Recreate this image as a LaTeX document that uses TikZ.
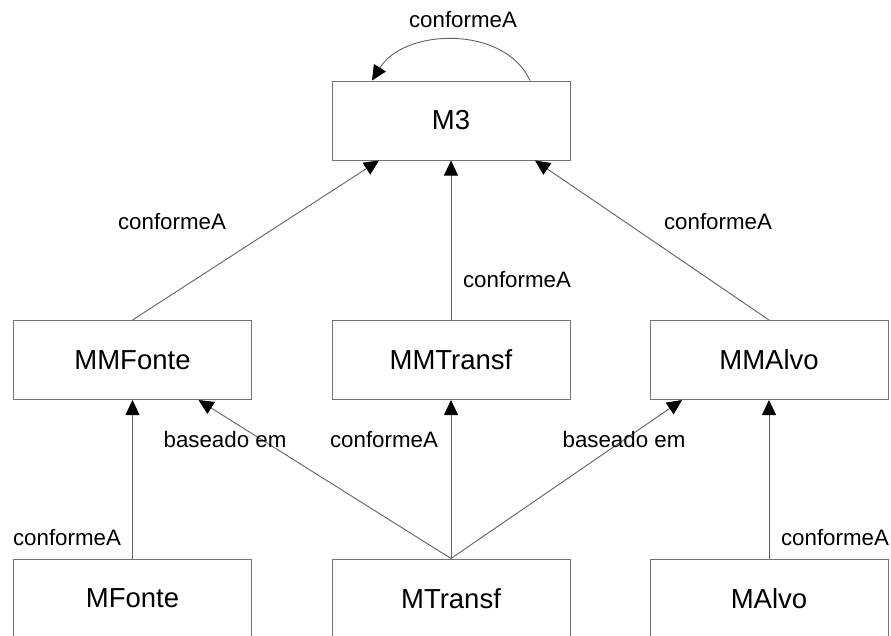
\documentclass[tikz,border=0pt]{standalone}
\usepackage{fontspec}
\setmainfont{Liberation Sans}
\usetikzlibrary{arrows.meta}
\begin{document}
\begin{tikzpicture}[x=1pt,y=-1pt,
  box/.style={draw=black!55,line width=1pt,minimum width=238pt,minimum height=79pt,
    inner sep=0pt,font=\fontsize{27.5}{31}\selectfont},
  lbl/.style={inner sep=0pt,font=\fontsize{22.3}{26}\selectfont},
  link/.style={draw=black!62,line width=0.9pt,
    -{Triangle[length=15pt,width=14pt,color=black]}}]
\useasboundingbox (0,0) rectangle (891,635);
\clip (0,0) rectangle (891,635);
\fill[white] (0,0) rectangle (891,635);

% boxes
\node[box] (M3) at (451,120.5) {M3};
\node[box] (MMFonte) at (132.5,360) {MMFonte};
\node[box] (MMTransf) at (451,360) {MMTransf};
\node[box] (MMAlvo) at (769,360) {MMAlvo};
\node[box] (MFonte) at (132.5,598.5) {MFonte};
\node[box] (MTransf) at (451,598.5) {MTransf};
\node[box] (MAlvo) at (769,598.5) {MAlvo};

% M3 conforms to itself
\coordinate (loopA) at ([xshift=79pt]M3.north);
\coordinate (loopB) at ([xshift=-79pt]M3.north);
\draw[link] (loopA) .. controls +(-25,-55) and +(33,-53) .. (loopB);

% metamodels conform to M3
\draw[link] (MMFonte.north) -- ([xshift=-72pt]M3.south);
\draw[link] (MMTransf.north) -- (M3.south);
\draw[link] (MMAlvo.north) -- ([xshift=84pt]M3.south);

% models conform to metamodels
\draw[link] (MFonte.north) -- (MMFonte.south);
\draw[link] (MTransf.north) -- (MMTransf.south);
\draw[link] (MAlvo.north) -- (MAlvo.north |- MMAlvo.south);

% transformation based on source and target metamodels
\draw[link] (MTransf.north) -- ([xshift=66pt]MMFonte.south);
\draw[link] (MTransf.north) -- ([xshift=-87pt]MMAlvo.south);

% labels
\node[lbl] (l0) at (463,20) {conformeA};
\node[lbl] (l1) at (172,222) {conformeA};
\node[lbl] (l2) at (718,222) {conformeA};
\node[lbl] (l3) at (517,280) {conformeA};
\node[lbl] (l4) at (225,440) {baseado em};
\node[lbl] (l5) at (384,440) {conformeA};
\node[lbl] (l6) at (624,440) {baseado em};
\node[lbl] (l7) at (67,538) {conformeA};
\node[lbl] (l8) at (835,538) {conformeA};
\end{tikzpicture}
\end{document}
